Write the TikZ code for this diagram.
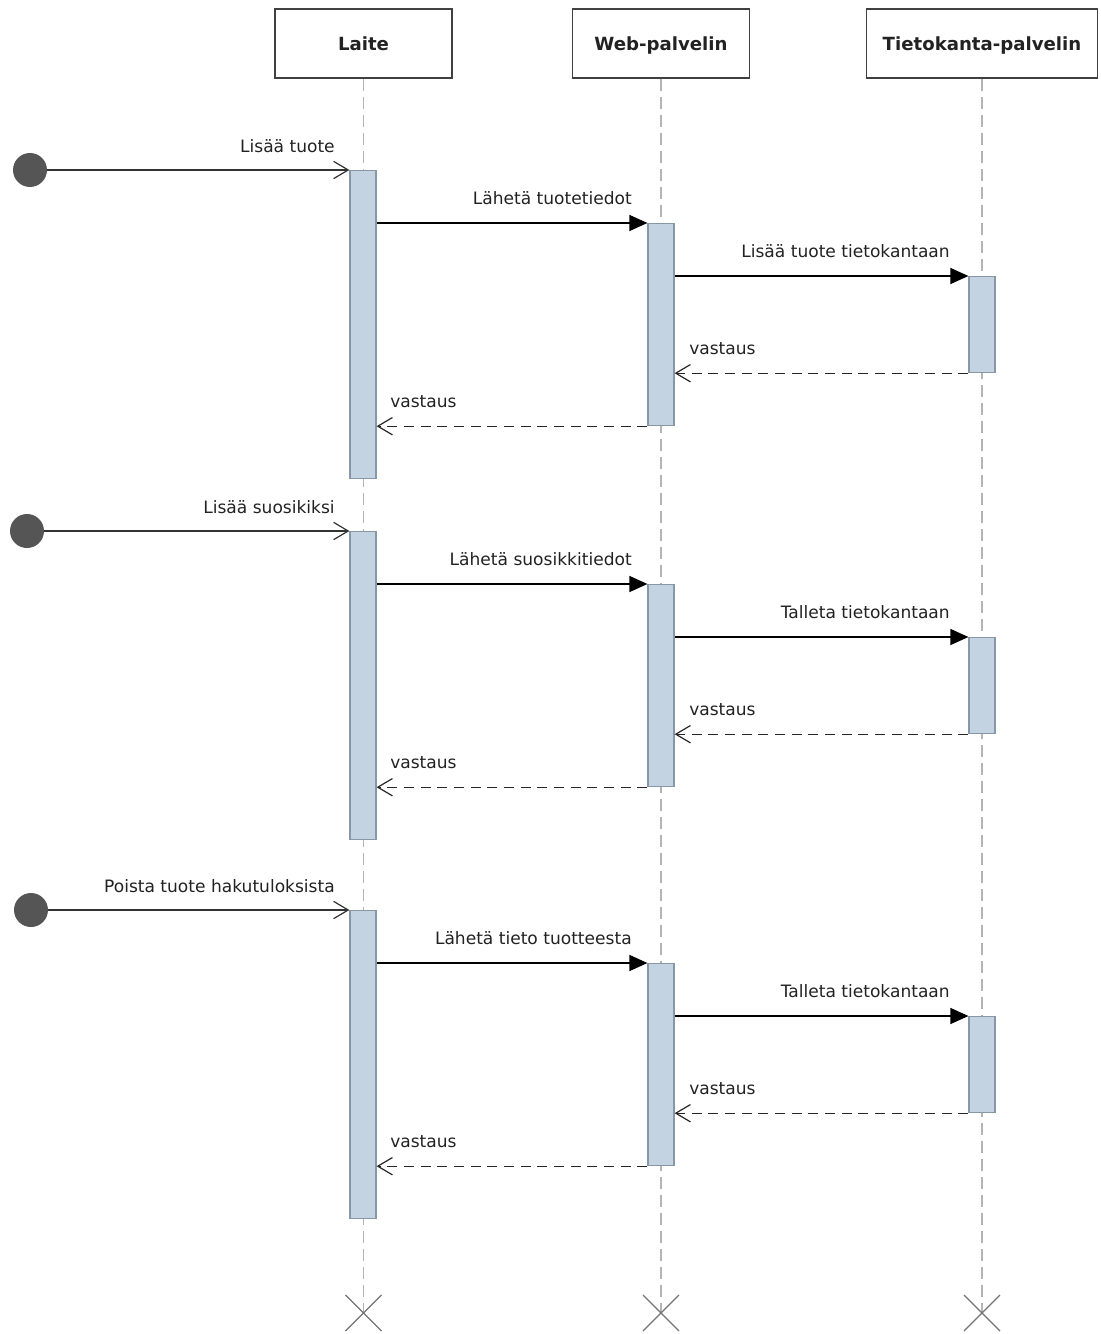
\documentclass[tikz,border=0pt]{standalone}
\usepackage{fontspec}
\setmainfont{DejaVu Sans}
\usetikzlibrary{arrows.meta,calc}

\definecolor{barfill}{HTML}{C3D3E1}
\definecolor{bardraw}{HTML}{8797A5}
\definecolor{lifegray}{HTML}{B4B4B4}
\definecolor{dotgray}{HTML}{555555}
\definecolor{txtgray}{HTML}{222222}

\tikzset{
  objbox/.style={draw=black!75, line width=1.3pt, fill=white, minimum width=177*0.75pt,
    minimum height=69*0.75pt, inner sep=0pt, text height=1.9ex, text depth=0.05ex,
    font=\fontsize{13.6}{15}\selectfont\bfseries, text=txtgray},
  lifeline/.style={draw=lifegray, line width=1.2pt, dash pattern=on 9pt off 4.5pt},
  actbar/.style={draw=bardraw, line width=0.9pt, fill=barfill, minimum width=26*0.75pt, inner sep=0pt},
  startdot/.style={circle, fill=dotgray, minimum size=34*0.75pt, inner sep=0pt},
  callmsg/.style={draw=black, line width=1pt, -{Triangle[length=13.5pt, width=12pt]}},
  entermsg/.style={draw=black!80, line width=1pt, -{Straight Barb[length=11pt, width=13pt, line width=0.9pt]}},
  replymsg/.style={draw=black!85, line width=1pt, dash pattern=on 7.5pt off 5pt,
    -{Straight Barb[length=11pt, width=13pt, line width=0.9pt]}},
  msglabel/.style={font=\fontsize{12.8}{14}\selectfont, text=txtgray, inner sep=0pt,
    text height=1.6ex, text depth=0.35ex},
  endcross/.style={draw=black!55, line width=1pt},
}

\begin{document}
\begin{tikzpicture}[x=0.75pt, y=-0.75pt]
  \useasboundingbox (0,0) rectangle (1100,1334);

  % participants
  \node[objbox] (laite) at (363.5,43.5) {Laite};
  \node[objbox] (web) at (661,43.5) {Web-palvelin};
  \node[objbox, minimum width=231*0.75pt] (db) at (982,43.5) {Tietokanta-palvelin};

  % lifelines ending in destruction marks
  \foreach \p in {laite, web, db} {
    \coordinate (\p-end) at (\p.south |- 0,1313);
    \draw[lifeline] (\p.south) -- (\p-end);
    \draw[endcross] ($(\p-end)+(-18,-18)$) -- ($(\p-end)+(18,18)$);
    \draw[endcross] ($(\p-end)+(-18,18)$) -- ($(\p-end)+(18,-18)$);
  }

  % three request/response exchanges
  \foreach \k/\oy/\cx/\ta/\tb/\tc in {
      1/0/30/{Lisää tuote}/{Lähetä tuotetiedot}/{Lisää tuote tietokantaan},
      2/361/27/{Lisää suosikiksi}/{Lähetä suosikkitiedot}/{Talleta tietokantaan},
      3/740/31/{Poista tuote hakutuloksista}/{Lähetä tieto tuotteesta}/{Talleta tietokantaan}} {
    % activation bars
    \node[actbar, minimum height=308*0.75pt, anchor=north] (la\k) at (363,170+\oy) {};
    \node[actbar, minimum height=202*0.75pt, anchor=north] (we\k) at (661,223+\oy) {};
    \node[actbar, minimum height=96*0.75pt, anchor=north] (dbb\k) at (982,276+\oy) {};
    % start point
    \node[startdot] (st\k) at (\cx,170+\oy) {};
    % messages
    \draw[entermsg] (st\k.east) -- (la\k.north west);
    \node[msglabel, anchor=east] (ma\k) at (335,148+\oy) {\ta};
    \draw[callmsg] (la\k.east |- we\k.north) -- (we\k.north west);
    \node[msglabel, anchor=east] (mb\k) at (632,200+\oy) {\tb};
    \draw[callmsg] (we\k.east |- dbb\k.north) -- (dbb\k.north west);
    \node[msglabel, anchor=east] (mc\k) at (950,253+\oy) {\tc};
    \draw[replymsg] (dbb\k.south west) -- (we\k.east |- dbb\k.south);
    \node[msglabel, anchor=west] (md\k) at (689,350+\oy) {vastaus};
    \draw[replymsg] (we\k.south west) -- (la\k.east |- we\k.south);
    \node[msglabel, anchor=west] (me\k) at (390,403+\oy) {vastaus};
  }
\end{tikzpicture}
\end{document}
